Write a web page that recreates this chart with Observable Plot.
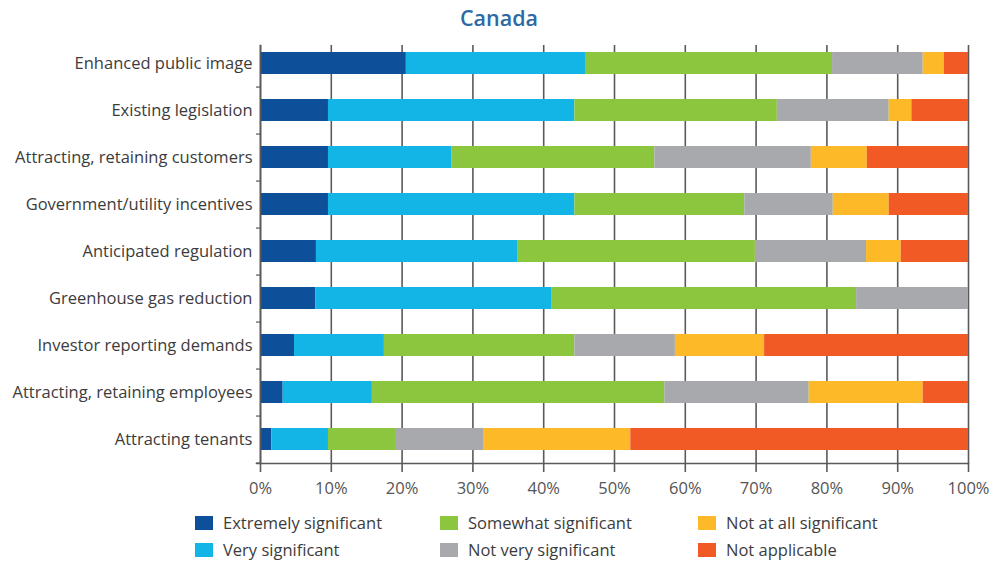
<!DOCTYPE html>
<html>
<head>
<meta charset="utf-8">
<script src="https://cdn.jsdelivr.net/npm/d3@7"></script>
<script src="https://cdn.jsdelivr.net/npm/@observablehq/plot@0.6"></script>
<style>
  body { margin: 0; background: #fff; font-family: "Open Sans", sans-serif; }
  #wrap { width: 998px; height: 563px; position: relative; overflow: hidden; }
  #title { height: 36px; line-height: 36px; text-align: center; font-size: 21.5px; font-weight: 600; color: #2d6aa5; }
  #legend { display: grid; grid-template-rows: 27px 27px; grid-auto-flow: column; grid-template-columns: 245px 258px 250px; margin-left: 195px; margin-top: 3px; }
  .item { display: flex; align-items: center; font-size: 16.5px; color: #3c3c3c; }
  .sw { width: 18px; height: 14px; margin-right: 10px; flex: none; }
</style>
</head>
<body>
<div id="wrap">
  <div id="title">Canada</div>
  <div id="chart"></div>
  <div id="legend"></div>
</div>
<script>
const categories = [
  "Enhanced public image",
  "Existing legislation",
  "Attracting, retaining customers",
  "Government/utility incentives",
  "Anticipated regulation",
  "Greenhouse gas reduction",
  "Investor reporting demands",
  "Attracting, retaining employees",
  "Attracting tenants"
];
const seriesNames = [
  "Extremely significant",
  "Very significant",
  "Somewhat significant",
  "Not very significant",
  "Not at all significant",
  "Not applicable"
];
const seriesColors = ["#0e4f99", "#13b4e6", "#8cc63f", "#a7a9ac", "#fdb927", "#f15a24"];
const extremelySignificant = [20.6, 9.6, 9.6, 9.6, 7.9, 7.8, 4.8, 3.2, 1.6];
const verySignificant      = [25.3, 34.8, 17.4, 34.8, 28.5, 33.4, 12.7, 12.6, 8.0];
const somewhatSignificant  = [34.9, 28.6, 28.7, 24.0, 33.5, 43.0, 26.9, 41.3, 9.6];
const notVerySignificant   = [12.8, 15.8, 22.1, 12.5, 15.7, 15.8, 14.2, 20.4, 12.3];
const notAtAllSignificant  = [3.0, 3.2, 7.9, 7.9, 4.9, 0, 12.6, 16.1, 20.8];
const notApplicable        = [3.4, 8.0, 14.3, 11.2, 9.5, 0, 28.8, 6.4, 47.7];
const xTicks = [0, 10, 20, 30, 40, 50, 60, 70, 80, 90, 100];

const seriesValues = [extremelySignificant, verySignificant, somewhatSignificant, notVerySignificant, notAtAllSignificant, notApplicable];
const data = [];
categories.forEach((c, i) => {
  seriesNames.forEach((s, j) => {
    data.push({category: c, series: s, value: seriesValues[j][i]});
  });
});

const W = 998, H = 470, mTop = 3, mBottom = 43;
const step = (H - mTop - mBottom) / categories.length;
const axisColor = "#5a5a5a";

const chart = Plot.plot({
  width: W,
  height: H,
  marginTop: mTop,
  marginBottom: mBottom,
  marginLeft: 260,
  marginRight: 30,
  style: {fontFamily: "'Open Sans', sans-serif", fontSize: "14px", color: "#3c3c3c", background: "#fff"},
  x: {domain: [0, 100]},
  y: {domain: categories, paddingInner: 0.53, paddingOuter: 0.265},
  color: {domain: seriesNames, range: seriesColors},
  marks: [
    Plot.ruleX(xTicks, {x: d => d, stroke: axisColor, strokeWidth: 1.6, insetTop: 6}),
    Plot.barX(data, {x: "value", y: "category", fill: "series", order: seriesNames}),
    Plot.frame({anchor: "bottom", stroke: axisColor, strokeWidth: 1.6, insetLeft: -4}),
    Plot.frame({anchor: "left", stroke: axisColor, strokeWidth: 1.6, insetTop: 6}),
    Plot.axisX({ticks: xTicks, tickFormat: d => d + "%", tickSize: 9, tickPadding: 10, stroke: axisColor, strokeWidth: 1.6, fill: "#555", fontSize: 16.5, label: null}),
    Plot.axisY({tickSize: 0, tickPadding: 8, fontSize: 16.5, fill: "#3c3c3c", label: null}),
    Plot.axisY({tickSize: 4, text: null, dy: step / 2, stroke: axisColor, strokeWidth: 1.2, label: null})
  ]
});
document.getElementById("chart").appendChild(chart);

const legend = document.getElementById("legend");
seriesNames.forEach((s, i) => {
  const item = document.createElement("div");
  item.className = "item";
  const sw = document.createElement("span");
  sw.className = "sw";
  sw.style.background = seriesColors[i];
  item.appendChild(sw);
  item.appendChild(document.createTextNode(s));
  legend.appendChild(item);
});
</script>
</body>
</html>
